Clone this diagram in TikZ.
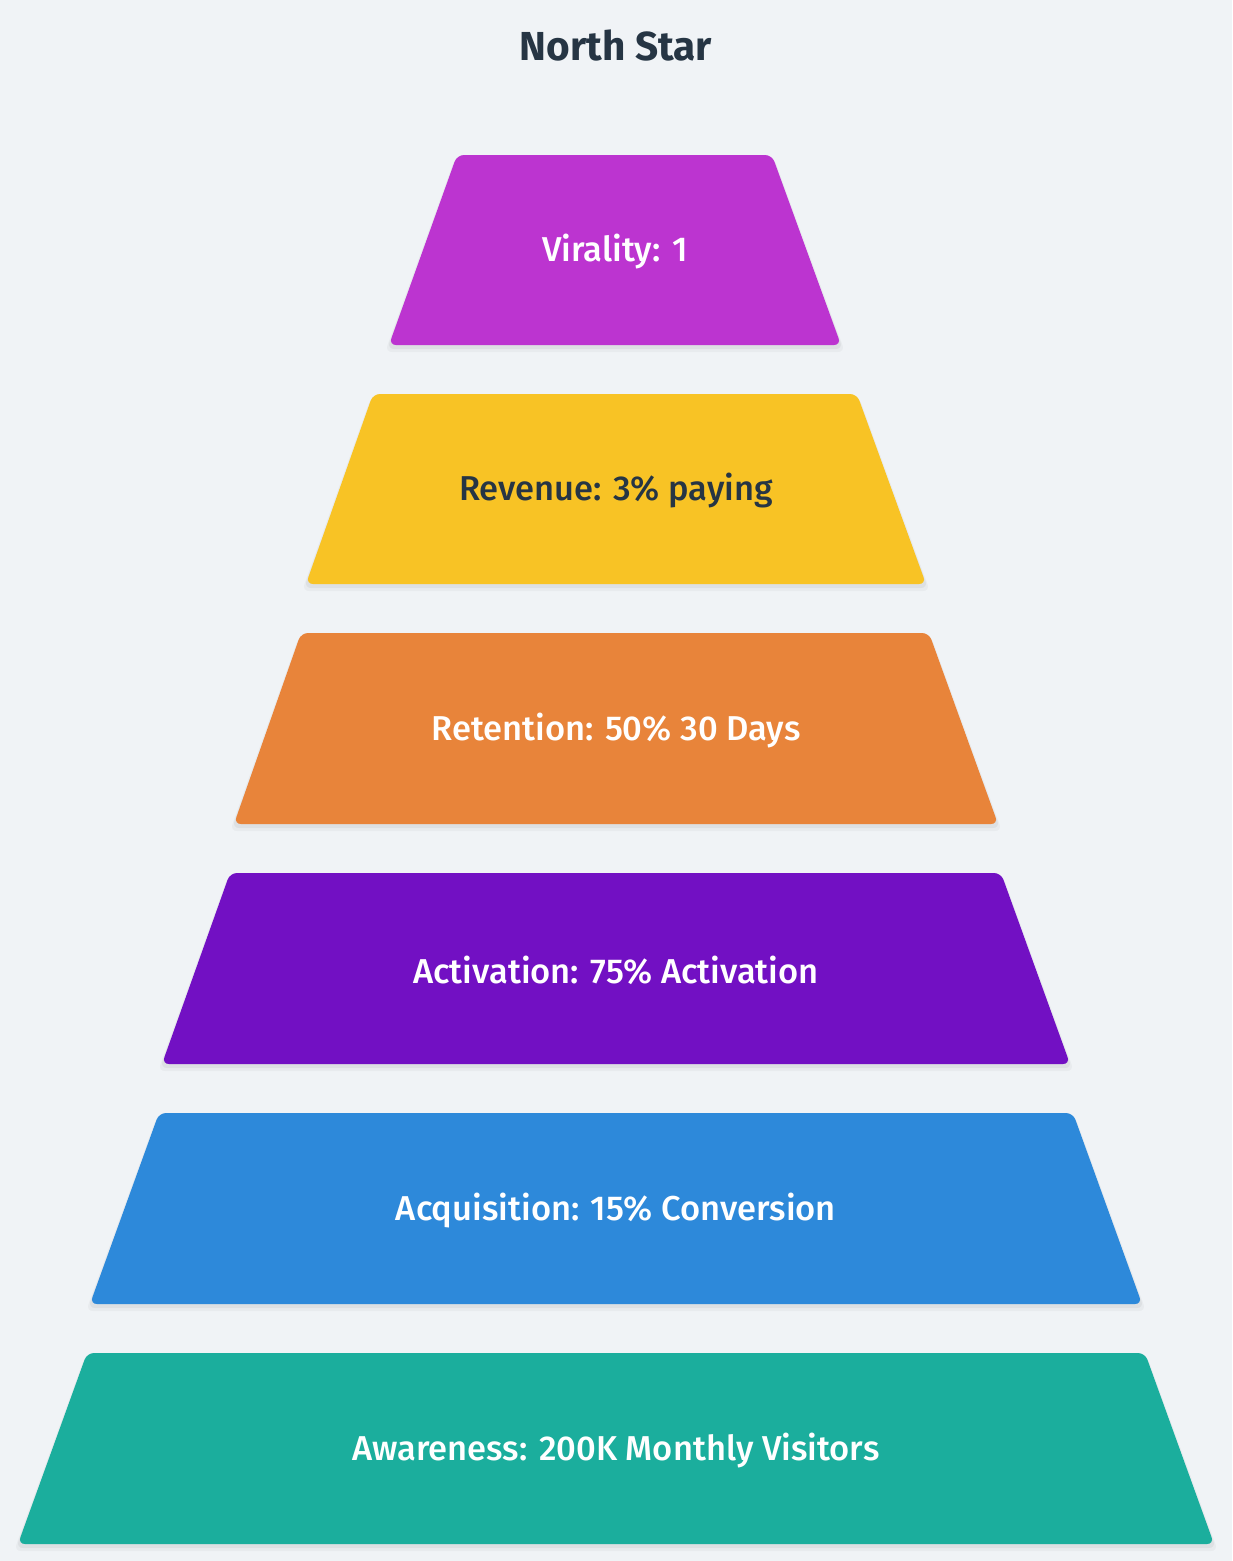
\documentclass[tikz,border=0pt]{standalone}
\usepackage{fontspec}
\setmainfont{Fira Sans}
\newfontfamily\labelfont{Fira Sans Medium}
\definecolor{bgc}{HTML}{F0F3F6}
\definecolor{titlec}{HTML}{263544}
\definecolor{cvir}{HTML}{BC34D0}
\definecolor{crev}{HTML}{F8C325}
\definecolor{cret}{HTML}{E8843A}
\definecolor{cact}{HTML}{7210C3}
\definecolor{cacq}{HTML}{2D89DA}
\definecolor{cawa}{HTML}{1BAE9D}
\tikzset{
  tierlabel/.style={font=\labelfont\fontsize{34.5}{40}\selectfont, inner sep=0pt},
  tiershadow/.style={fill=black, opacity=0.045, rounded corners=7pt},
  tierfill/.style={rounded corners=7pt},
}
\begin{document}
\begin{tikzpicture}[x=1pt,y=-1pt]
\fill[bgc] (0,0) rectangle (1232,1561);
\useasboundingbox (0,0) rectangle (1232,1561);
\node[font=\bfseries\fontsize{40.5}{46}\selectfont, text=titlec, inner sep=0pt] (title) at (616,45) {North Star};
\foreach \n/\ty/\by/\tl/\tr/\bl/\br/\c/\tc/\t in {
  vir/155/345/457/772/389/841/cvir/white/{Virality: 1},
  rev/394/584/373/857/306/926/crev/titlec/{Revenue: 3\% paying},
  ret/633/824/301/929/234/998/cret/white/{Retention: 50\% 30 Days},
  act/873/1064/230/1001/162/1070/cact/white/{Activation: 75\% Activation},
  acq/1113/1304/159/1073/90/1142/cacq/white/{Acquisition: 15\% Conversion},
  awa/1353/1544/87/1145/18/1214/cawa/white/{Awareness: 200K Monthly Visitors}}
{
  \fill[tiershadow] (\tl,\ty+4) -- (\tr,\ty+4) -- (\br+2,\by+4) -- (\bl-2,\by+4) -- cycle;
  \fill[tiershadow, opacity=0.03] (\tl-2,\ty+3) -- (\tr+2,\ty+3) -- (\br+4,\by+7) -- (\bl-4,\by+7) -- cycle;
  \fill[\c, tierfill] (\tl,\ty) -- (\tr,\ty) -- (\br,\by) -- (\bl,\by) -- cycle;
  \node[tierlabel, text=\tc] (\n) at ({(\bl+\br)/2}, {(\ty+\by)/2+2}) {\t};
}
\end{tikzpicture}
\end{document}
